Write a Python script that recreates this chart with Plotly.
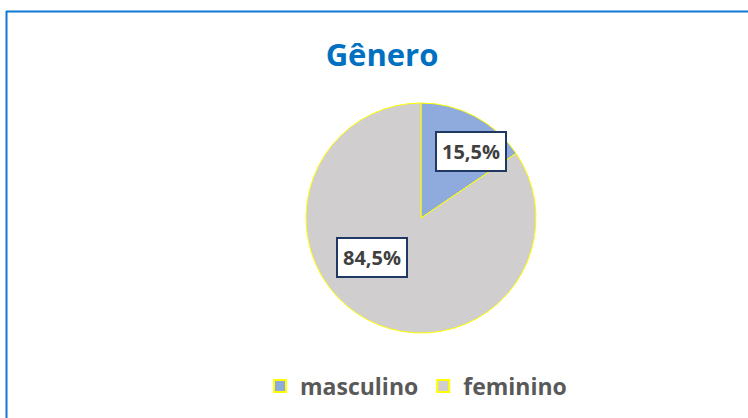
import plotly.graph_objects as go

categories = ["masculino", "feminino"]
values = [15.5, 84.5]
colors = ["#8FAADC", "#D0CECE"]
title_text = "Gênero"

W, H = 748, 418

def px(x):
    return x / W

def py(y):
    return 1 - y / H

fig = go.Figure()
fig.add_trace(go.Pie(
    labels=categories,
    values=values,
    sort=False,
    direction="clockwise",
    rotation=0,
    marker=dict(colors=colors, line=dict(color="#FFFF00", width=1)),
    textinfo="none",
    hoverinfo="label+percent",
    domain=dict(x=[px(306), px(536)], y=[py(333), py(103)]),
))

label_pos = [(471, 151), (372, 257)]
for v, (x, y) in zip(values, label_pos):
    fig.add_annotation(
        x=px(x), y=py(y), xref="paper", yref="paper",
        text=f"{v:.1f}".replace(".", ",") + "%",
        showarrow=False,
        font=dict(family="Open Sans", size=20, color="#404040", weight="bold"),
        bgcolor="white", bordercolor="#1F3864", borderwidth=2,
        borderpad=5, xanchor="center", yanchor="middle",
    )

fig.add_shape(type="line", xref="paper", yref="paper",
              x0=px(6), x1=1.01, y0=py(11.5), y1=py(11.5),
              line=dict(color="#1078D0", width=2))
fig.add_shape(type="line", xref="paper", yref="paper",
              x0=px(6.5), x1=px(6.5), y0=py(11), y1=-0.01,
              line=dict(color="#1078D0", width=2))

fig.update_layout(
    width=W, height=H,
    margin=dict(l=0, r=0, t=0, b=0),
    paper_bgcolor="white", plot_bgcolor="white",
    title=dict(text=title_text, x=px(382), xanchor="center", y=py(55), yanchor="middle",
               font=dict(family="Open Sans", size=31, color="#0070C0", weight="bold")),
    showlegend=True,
    legend=dict(orientation="h", x=px(416), xanchor="center", y=py(386), yanchor="middle",
                font=dict(family="Open Sans", size=23, color="#595959", weight="bold"),
                itemsizing="constant", traceorder="normal"),
)

fig.write_html("out.html")
